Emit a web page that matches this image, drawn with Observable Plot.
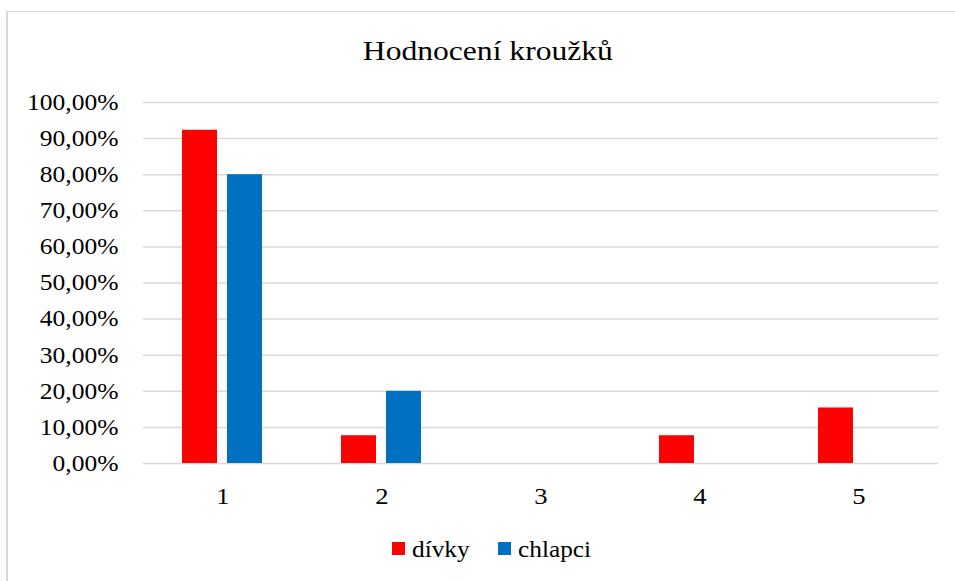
<!DOCTYPE html>
<html>
<head>
<meta charset="utf-8">
<script src="https://cdn.jsdelivr.net/npm/d3@7"></script>
<script src="https://cdn.jsdelivr.net/npm/@observablehq/plot@0.6"></script>
<style>
  html, body { margin: 0; padding: 0; background: #fff; }
  #wrap { position: relative; width: 955px; height: 581px; overflow: hidden; font-family: 'Liberation Serif', serif; color: #000; }
  #frame { position: absolute; left: 6px; top: 10.5px; width: 1000px; height: 700px; border-left: 2px solid #d9d9d9; border-top: 1.5px solid #d9d9d9; }
  #chart { position: absolute; left: 0; top: 0; }
  #title { position: absolute; left: 0; width: 975px; top: 38px; text-align: center; font-family: 'Liberation Serif', serif; font-size: 27px; line-height: 27px; }
  #title span { display: inline-block; transform: scaleX(1.17); transform-origin: center; }
  .lg-sw { position: absolute; width: 13px; height: 13px; top: 542px; }
  .lg-tx { position: absolute; top: 537.5px; font-family: 'Liberation Serif', serif; font-size: 23px; line-height: 23px; white-space: nowrap; transform: scaleX(1.1); transform-origin: left center; }
</style>
</head>
<body>
<div id="wrap">
  <div id="frame"></div>
  <div id="chart"></div>
  <div id="title"><span>Hodnocení kroužků</span></div>
  <div id="legend"></div>
</div>
<script>
const categories = ["1", "2", "3", "4", "5"];
const seriesNames = ["dívky", "chlapci"];
const divky = [92.31, 7.69, 0, 7.69, 15.38];
const chlapci = [80, 20, 0, 0, 0];
const yTicks = [0, 10, 20, 30, 40, 50, 60, 70, 80, 90, 100];
const colors = ["#ff0000", "#0070c0"];

const data = [];
categories.forEach((c, i) => {
  data.push({cat: c, series: seriesNames[0], value: divky[i]});
  data.push({cat: c, series: seriesNames[1], value: chlapci[i]});
});

const fmt = d => d.toFixed(2).replace(".", ",") + "%";

const chart = Plot.plot({
  width: 955,
  height: 581,
  marginTop: 102,
  marginBottom: 118,
  marginLeft: 143,
  marginRight: 17,
  style: "font-family: 'Liberation Serif', serif; font-size: 23px; color: #000; background: transparent; overflow: visible;",
  fx: {domain: categories, padding: 0, label: null, axis: null},
  x: {domain: seriesNames, paddingInner: 0.217, paddingOuter: 0.837, axis: null},
  y: {domain: [0, 100], axis: null},
  color: {domain: seriesNames, range: colors},
  marks: [
    Plot.ruleY(yTicks, {stroke: "#d9d9d9", strokeWidth: 1.5}),
    Plot.barY(data, {fx: "cat", x: "series", y: "value", fill: "series"}),
    Plot.axisY({ticks: yTicks, tickSize: 0, tickPadding: 25, tickFormat: fmt, fill: "#000", label: null}),
    Plot.axisFx({anchor: "bottom", tickSize: 0, tickPadding: 23, fill: "#000", label: null, fontSize: 24})
  ]
});
document.getElementById("chart").appendChild(chart);

// mimic the horizontally stretched text of the reference image
chart.querySelectorAll("text").forEach(t => {
  const len = t.getComputedTextLength();
  if (len > 0) {
    t.setAttribute("textLength", (len * 1.11).toFixed(1));
    t.setAttribute("lengthAdjust", "spacingAndGlyphs");
  }
});

const legend = document.getElementById("legend");
const legendPos = [{sw: 392, tx: 411.5}, {sw: 498, tx: 518}];
seriesNames.forEach((s, i) => {
  const sw = document.createElement("div");
  sw.className = "lg-sw";
  sw.style.left = legendPos[i].sw + "px";
  sw.style.background = colors[i];
  legend.appendChild(sw);
  const tx = document.createElement("div");
  tx.className = "lg-tx";
  tx.style.left = legendPos[i].tx + "px";
  tx.textContent = s;
  legend.appendChild(tx);
});
</script>
</body>
</html>
